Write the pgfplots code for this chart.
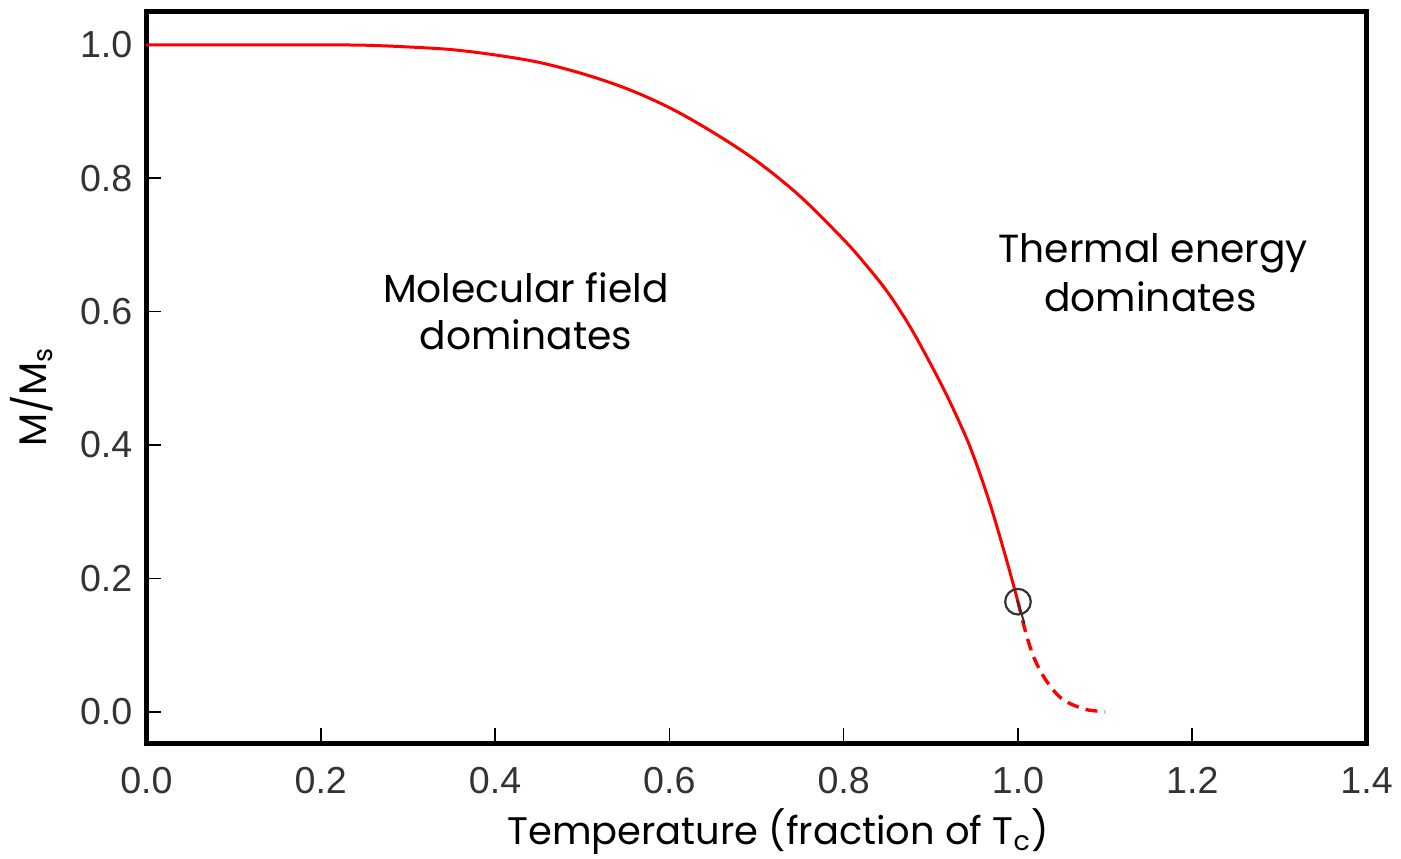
\documentclass[border=0pt]{standalone}
\usepackage{pgfplots}
\pgfplotsset{compat=1.18}
\usepackage{fontspec}
\setmainfont{Poppins}
\newfontfamily\tickfont{Liberation Sans}

% reduced magnetisation below and just above the Curie point
\pgfplotstableread{
T      m
0.00   1.000
0.10   1.000
0.20   1.000
0.25   0.9996
0.30   0.997
0.35   0.993
0.40   0.985
0.45   0.974
0.50   0.957
0.55   0.935
0.60   0.906
0.65   0.869
0.70   0.826
0.75   0.773
0.80   0.708
0.825  0.671
0.85   0.630
0.875  0.580
0.90   0.521
0.92   0.470
0.94   0.413
0.95   0.380
0.96   0.343
0.97   0.303
0.98   0.259
0.99   0.213
1.00   0.165
}\solidpart

\pgfplotstableread{
T      m
1.000  0.165
1.006  0.133
1.012  0.105
1.018  0.082
1.027  0.058
1.037  0.038
1.048  0.022
1.060  0.012
1.079  0.003
1.100  0.000
}\tailpart

\begin{document}
\begin{tikzpicture}
\begin{axis}[
  scale only axis,
  width=305pt, height=182.9pt,
  xmin=0, xmax=1.4,
  ymin=-0.0474, ymax=1.05,
  xtick={0,0.2,...,1.4},
  ytick={0,0.2,...,1.0},
  tick pos=left,
  tick align=inside,
  major tick length=3.75pt,
  every tick/.style={black, line width=0.4pt},
  axis line style={line width=1.25pt},
  /pgf/number format/assume math mode=true,
  /pgf/number format/fixed,
  /pgf/number format/fixed zerofill,
  /pgf/number format/precision=1,
  ticklabel style={font=\tickfont\fontsize{9.4}{11}\selectfont, text=black!80},
  xticklabel style={yshift=-2.5pt},
  xlabel={Temperature (fraction of T\textsubscript{c})},
  ylabel={M/M\textsubscript{s}},
  label style={font=\fontsize{9.6}{11}\selectfont},
  xlabel style={at={(axis description cs:0.518,0)}, anchor=base, yshift=-25.4pt},
  ylabel style={at={(axis description cs:0,0.474)}, anchor=base, yshift=24.9pt},
  clip=false,
]
\addplot[red, line width=0.75pt, smooth, tension=0.55, line join=round] table[x=T, y=m] {\solidpart};
\addplot[red, line width=0.85pt, dash pattern=on 3pt off 1.8pt, smooth, tension=0.5] table[x=T, y=m] {\tailpart};
\addplot[black!80, line width=0.5pt] coordinates {(0.999,0.168) (1.0075,0.132)};
\addplot[black!80, mark=o, mark size=3.2pt, mark options={line width=0.55pt}, only marks] coordinates {(1.0,0.165)};

\node[anchor=base, font=\fontsize{9.8}{12}\selectfont] at (axis cs:0.4355,0.613) {Molecular field};
\node[anchor=base, font=\fontsize{9.8}{12}\selectfont] at (axis cs:0.4355,0.5426) {dominates};
\node[anchor=base, font=\fontsize{9.8}{12}\selectfont] at (axis cs:1.155,0.673) {Thermal energy};
\node[anchor=base, font=\fontsize{9.8}{12}\selectfont] at (axis cs:1.152,0.600) {dominates};
\end{axis}
\pgfresetboundingbox
\path (current axis.south west) ++(-36.6pt,-28.9pt) rectangle ([shift={(8.6pt,2.9pt)}]current axis.north east);
\end{tikzpicture}
\end{document}
